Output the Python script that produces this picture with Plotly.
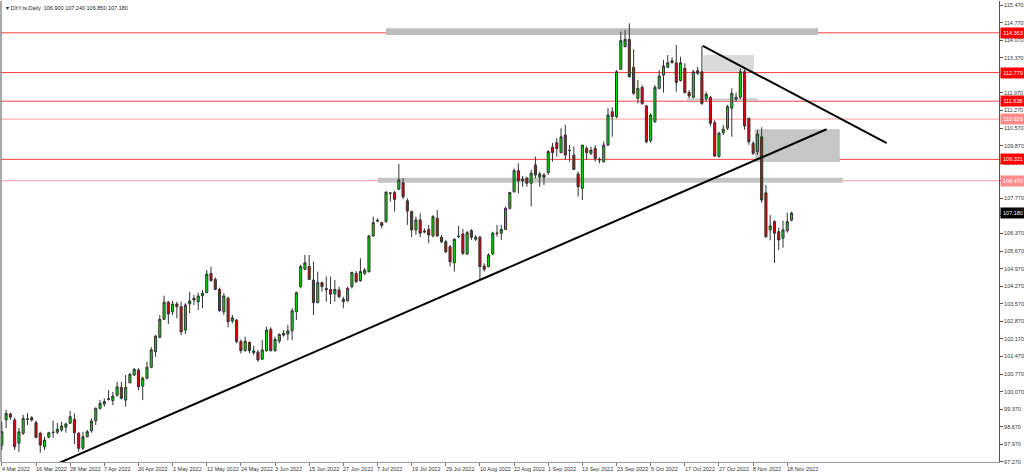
import plotly.graph_objects as go

# ---- OHLC data (daily bars, 4 Mar 2022 .. 21 Nov 2022) ----
open_ = [97.94, 98.94, 99.18, 98.94, 98.01, 98.41, 98.96, 99.03, 98.83, 98.41,
         97.87, 98.25, 98.43, 98.45, 98.54, 98.65, 98.81, 98.96, 98.41, 97.81,
         98.27, 98.51, 98.91, 99.40, 99.57, 99.76, 99.71, 99.93, 100.24, 99.73,
         100.42, 100.73, 100.93, 100.29, 100.60, 101.04, 101.66, 102.23, 102.95, 103.63,
         103.25, 103.56, 103.45, 102.52, 103.56, 103.79, 103.65, 103.88, 104.01, 104.78,
         104.54, 104.14, 103.25, 103.79, 102.88, 102.92, 102.06, 101.70, 102.03, 101.69,
         101.64, 101.36, 101.70, 102.55, 101.70, 102.08, 102.39, 102.36, 102.49, 103.25,
         104.25, 104.94, 105.05, 104.51, 103.61, 104.41, 104.18, 104.14, 103.96, 104.12,
         103.75, 103.69, 104.25, 104.78, 104.49, 104.78, 104.85, 106.27, 106.86, 106.80,
         106.84, 107.97, 108.00, 108.13, 108.39, 107.67, 107.24, 106.51, 106.91, 106.47,
         106.53, 106.27, 106.97, 106.22, 106.04, 105.84, 105.20, 106.24, 106.35, 105.55,
         106.48, 106.14, 106.22, 105.07, 105.05, 105.55, 106.36, 106.38, 106.53, 107.37,
         108.03, 108.87, 108.53, 108.57, 108.37, 109.10, 108.61, 108.70, 108.79, 109.81,
         109.98, 109.59, 110.29, 109.68, 109.49, 108.74, 108.17, 109.76, 109.56, 109.76,
         109.31, 109.23, 109.89, 111.22, 111.02, 112.91, 113.81, 114.10, 112.99, 111.75,
         112.19, 111.45, 110.06, 110.82, 112.15, 112.68, 112.99, 113.25, 113.17, 112.46,
         112.95, 111.98, 111.79, 112.85, 112.81, 111.75, 111.79, 110.78, 109.43, 110.38,
         110.56, 111.36, 111.72, 111.80, 112.81, 110.96, 109.96, 109.63, 110.22, 107.99,
         106.51, 106.84, 106.44, 106.18, 106.48, 106.90]
high = [98.87, 99.34, 99.23, 99.02, 98.62, 99.14, 99.22, 99.09, 98.91, 98.47,
        98.27, 98.47, 98.91, 98.83, 98.87, 98.83, 99.30, 99.20, 98.46, 98.47,
        98.54, 99.00, 99.44, 99.73, 99.80, 100.13, 100.06, 100.46, 100.46, 100.73,
        100.80, 101.00, 101.00, 100.66, 101.26, 101.84, 102.32, 103.12, 103.89, 103.69,
        103.69, 103.65, 103.65, 103.59, 104.05, 103.92, 104.01, 104.12, 104.91, 105.05,
        104.62, 104.21, 103.99, 103.85, 103.12, 102.95, 102.15, 102.26, 102.06, 101.89,
        101.73, 102.12, 102.65, 102.63, 102.26, 102.39, 102.52, 102.72, 103.39, 104.05,
        105.12, 105.51, 105.51, 105.25, 104.85, 104.45, 104.65, 104.65, 104.51, 104.25,
        103.85, 104.25, 104.85, 104.87, 105.38, 104.99, 106.31, 107.04, 106.97, 106.84,
        108.03, 108.00, 108.07, 109.14, 108.57, 107.77, 107.28, 107.04, 107.17, 106.57,
        106.71, 107.10, 107.30, 106.31, 106.11, 105.91, 106.18, 106.67, 106.55, 106.47,
        106.55, 106.31, 106.27, 105.18, 105.58, 106.44, 106.71, 106.71, 107.44, 108.03,
        108.96, 109.16, 108.66, 108.63, 108.90, 109.43, 108.83, 108.77, 109.69, 109.97,
        110.16, 110.56, 110.69, 109.89, 109.83, 108.83, 109.89, 109.85, 109.83, 109.89,
        109.40, 110.03, 111.36, 111.40, 112.88, 114.41, 114.47, 114.74, 113.71, 112.48,
        112.28, 111.49, 111.16, 112.28, 112.88, 113.28, 113.48, 113.39, 113.88, 113.41,
        113.15, 112.08, 112.88, 113.01, 113.84, 112.02, 111.85, 110.89, 110.42, 110.69,
        111.49, 112.15, 111.98, 112.95, 112.90, 110.96, 110.05, 110.49, 110.60, 108.30,
        107.10, 106.90, 106.60, 106.88, 107.20, 107.24]
low = [97.74, 98.61, 98.94, 97.74, 97.66, 98.34, 98.74, 98.87, 98.21, 97.63,
       97.74, 98.21, 98.22, 98.38, 98.47, 98.43, 98.78, 97.98, 97.67, 97.74,
       98.25, 98.43, 98.74, 99.36, 99.47, 99.71, 99.53, 99.87, 99.76, 99.47,
       100.40, 100.69, 100.13, 99.73, 100.56, 101.00, 101.46, 102.19, 102.92, 102.76,
       103.12, 102.99, 102.32, 102.36, 103.19, 103.52, 103.32, 103.39, 103.99, 104.45,
       104.12, 103.25, 103.12, 102.63, 102.79, 101.99, 101.59, 101.66, 101.59, 101.53,
       101.26, 101.33, 101.66, 101.66, 101.66, 101.99, 102.26, 102.12, 102.12, 102.92,
       104.18, 104.91, 104.51, 103.12, 103.59, 104.05, 103.65, 103.56, 103.65, 103.79,
       103.39, 103.65, 104.18, 104.40, 104.44, 104.71, 104.81, 106.24, 106.83, 106.57,
       106.80, 107.64, 107.24, 108.10, 107.73, 106.71, 106.22, 106.31, 106.22, 106.38,
       105.98, 106.22, 106.24, 105.98, 105.58, 105.05, 104.85, 106.18, 105.51, 105.51,
       106.11, 106.07, 104.51, 104.85, 105.02, 105.51, 106.24, 106.11, 106.51, 107.33,
       108.00, 107.97, 108.23, 108.23, 107.44, 108.57, 108.23, 108.30, 108.70, 109.23,
       109.43, 109.56, 109.30, 109.23, 108.90, 107.83, 107.70, 109.30, 109.49, 109.23,
       109.16, 109.19, 109.85, 110.22, 110.96, 112.88, 113.79, 112.59, 111.89, 111.55,
       111.49, 109.96, 109.98, 110.78, 112.11, 111.98, 112.95, 113.15, 112.02, 112.42,
       111.95, 111.75, 111.75, 112.68, 111.49, 111.62, 110.65, 109.43, 109.40, 110.29,
       110.49, 110.22, 111.60, 111.72, 110.50, 109.90, 109.50, 109.50, 107.60, 106.19,
       106.10, 105.19, 105.70, 105.80, 106.40, 106.85]
close = [98.47, 99.20, 99.05, 97.87, 98.47, 99.00, 98.98, 98.94, 98.25, 97.94,
         98.14, 98.43, 98.45, 98.57, 98.70, 98.78, 99.07, 98.43, 97.81, 98.27,
         98.47, 98.90, 99.40, 99.60, 99.67, 99.78, 99.89, 100.26, 99.80, 100.24,
         100.76, 100.96, 100.26, 100.60, 101.04, 101.73, 102.28, 102.95, 103.63, 103.16,
         103.56, 103.45, 102.45, 103.52, 103.68, 103.72, 103.88, 103.99, 104.75, 104.49,
         104.14, 103.29, 103.88, 102.85, 103.01, 102.06, 101.70, 102.08, 101.70, 101.62,
         101.33, 101.73, 102.52, 101.70, 102.15, 102.35, 102.32, 102.49, 103.29, 104.01,
         105.05, 105.20, 104.54, 103.61, 104.41, 104.25, 104.12, 103.95, 104.14, 103.85,
         103.65, 104.18, 104.81, 104.45, 104.85, 104.91, 106.27, 106.80, 106.89, 106.69,
         108.02, 107.98, 107.73, 108.50, 107.83, 107.26, 106.51, 106.91, 106.38, 106.43,
         106.31, 107.04, 106.27, 106.04, 105.64, 105.24, 106.14, 106.26, 105.58, 106.40,
         106.22, 106.22, 105.05, 104.94, 105.51, 106.38, 106.38, 106.53, 107.37, 108.00,
         108.87, 108.47, 108.47, 108.37, 108.77, 108.70, 108.74, 108.61, 109.63, 109.59,
         109.75, 110.22, 109.49, 109.67, 108.92, 108.23, 109.89, 109.59, 109.69, 109.36,
         109.30, 109.89, 111.09, 111.02, 112.81, 114.05, 114.10, 112.61, 111.95, 112.15,
         111.55, 110.02, 111.09, 112.19, 112.64, 113.04, 113.17, 113.17, 112.38, 113.17,
         111.98, 111.85, 112.81, 112.75, 111.55, 111.92, 110.76, 109.45, 110.36, 110.52,
         111.42, 111.95, 111.80, 112.81, 110.65, 110.02, 109.56, 110.33, 107.70, 106.24,
         106.67, 106.38, 106.11, 106.51, 106.84, 107.18]

# ---- axis labels ----
date_tick_index = [0, 8, 16, 24, 32, 40, 48, 56, 64, 72, 80, 88, 96, 104, 112, 120,
                   128, 136, 144, 152, 160, 168, 176, 184]
date_tick_labels = ["4 Mar 2022", "16 Mar 2022", "28 Mar 2022", "7 Apr 2022", "20 Apr 2022",
                    "2 May 2022", "12 May 2022", "24 May 2022", "3 Jun 2022", "15 Jun 2022",
                    "27 Jun 2022", "7 Jul 2022", "19 Jul 2022", "29 Jul 2022", "10 Aug 2022",
                    "22 Aug 2022", "1 Sep 2022", "13 Sep 2022", "23 Sep 2022", "5 Oct 2022",
                    "17 Oct 2022", "27 Oct 2022", "8 Nov 2022", "18 Nov 2022"]
price_tick_labels = ["97.270", "97.970", "98.670", "99.370", "100.070", "100.770", "101.470",
                     "102.170", "102.870", "103.570", "104.270", "104.970", "105.670", "106.370",
                     "107.070", "107.770", "108.470", "109.170", "109.870", "110.570", "111.270",
                     "111.970", "112.670", "113.370", "114.070", "114.770", "115.470"]

# ---- drawn levels / objects ----
level_prices = [114.363, 112.779, 111.638, 110.926, 109.321, 108.470]
level_alpha = [0.75, 0.75, 0.75, 0.4, 0.75, 0.4]
last_price = 107.180

zone_x0 = [90.0, 88.0, 164.3, 176.4]
zone_x1 = [191.2, 197.0, 176.2, 196.3]
zone_y0 = [114.28, 108.39, 112.81, 109.22]
zone_y1 = [114.54, 108.59, 113.48, 110.52]
zone_color = ["#bdbdbd", "#c4c4c4", "#dadada", "#c6c6c6"]

grey_line_x = [160.4, 177.1]
grey_line_y = [111.71, 111.71]

up_trend_x = [13.2, 193.2]
up_trend_y = [97.21, 110.52]
down_trend_x = [164.2, 207.3]
down_trend_y = [113.84, 109.97]

FONT = "Liberation Sans"

fig = go.Figure()
fig.add_trace(go.Candlestick(
    x=list(range(len(close))), open=open_, high=high, low=low, close=close,
    increasing=dict(fillcolor="#00e000", line=dict(color="#333333", width=1)),
    decreasing=dict(fillcolor="#e00000", line=dict(color="#333333", width=1)),
    whiskerwidth=0, showlegend=False, hoverinfo="skip"))

shapes = []
for x0, x1, y0, y1, c in zip(zone_x0, zone_x1, zone_y0, zone_y1, zone_color):
    shapes.append(dict(type="rect", xref="x", yref="y", x0=x0, x1=x1, y0=y0, y1=y1,
                       fillcolor=c, line=dict(width=0), layer="below"))
shapes.append(dict(type="line", xref="x", yref="y", x0=grey_line_x[0], x1=grey_line_x[1],
                   y0=grey_line_y[0], y1=grey_line_y[1],
                   line=dict(color="#c8c8c8", width=2), layer="below"))
for p, a in zip(level_prices, level_alpha):
    shapes.append(dict(type="line", xref="paper", yref="y", x0=0, x1=1, y0=p, y1=p,
                       line=dict(color=f"rgba(255,0,0,{a})", width=1), layer="below"))
for xs, ys in ((up_trend_x, up_trend_y), (down_trend_x, down_trend_y)):
    shapes.append(dict(type="line", xref="x", yref="y", x0=xs[0], x1=xs[1], y0=ys[0], y1=ys[1],
                       line=dict(color="black", width=2), layer="above"))
# left frame border
shapes.append(dict(type="line", xref="paper", yref="paper", x0=0, x1=0, y0=0, y1=1,
                   line=dict(color="#555555", width=1)))

annotations = []
for idx, lab in zip(date_tick_index, date_tick_labels):
    annotations.append(dict(x=idx, xref="x", y=0, yref="paper", text=lab, showarrow=False,
                            xanchor="left", yanchor="top", yshift=-2, xshift=-2,
                            font=dict(family=FONT, size=5.5, color="#333333")))
for p, a in zip(level_prices, level_alpha):
    bg = "#ff0000" if a > 0.5 else "#ff8c8c"
    annotations.append(dict(x=1, xref="paper", y=p, yref="y", text=f"{p:.3f}", showarrow=False,
                            xanchor="left", yanchor="middle", xshift=1, width=22, height=8,
                            bgcolor=bg, font=dict(family=FONT, size=5.5, color="white")))
annotations.append(dict(x=1, xref="paper", y=last_price, yref="y", text=f"{last_price:.3f}",
                        showarrow=False, xanchor="left", yanchor="middle", xshift=1, width=22,
                        height=8, bgcolor="#000000",
                        font=dict(family=FONT, size=5.5, color="white")))
annotations.append(dict(x=0, xref="paper", y=1, yref="paper", showarrow=False,
                        text="▾ DXY.ts,Daily  106.900 107.240 106.850 107.180",
                        xanchor="left", yanchor="top", xshift=3, yshift=-2,
                        font=dict(family=FONT, size=5.5, color="#222222")))

fig.update_layout(
    width=1024, height=475,
    margin=dict(l=1, r=25, t=1, b=13),
    paper_bgcolor="white", plot_bgcolor="white",
    shapes=shapes, annotations=annotations,
    xaxis=dict(range=[-0.2, 233.6], showgrid=False, zeroline=False, rangeslider=dict(visible=False),
               tickmode="array", tickvals=date_tick_index, showticklabels=False,
               ticks="outside", ticklen=3, tickcolor="#777777",
               showline=True, linecolor="#999999", linewidth=1, fixedrange=True),
    yaxis=dict(range=[97.264, 115.63], side="right", showgrid=False, zeroline=False,
               tickmode="array", tickvals=[float(t) for t in price_tick_labels],
               ticktext=price_tick_labels, ticks="outside", ticklen=3, tickcolor="#555555",
               tickfont=dict(family=FONT, size=5.5, color="#333333"),
               showline=True, linecolor="#555555", linewidth=1, fixedrange=True),
)

fig.write_html("out.html", config={"displayModeBar": False},
               post_script="document.body.style.margin='0px';document.body.style.overflow='hidden';")
